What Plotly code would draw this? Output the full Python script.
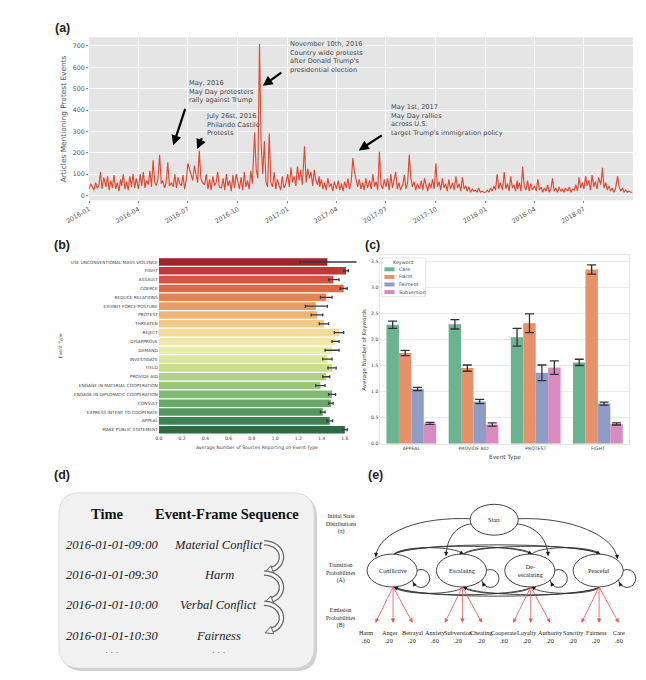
import math
import pandas as pd
import plotly.graph_objects as go

W, H = 646, 680

months = pd.period_range("2016-01", "2018-09", freq="M")
sample_days = [1, 4, 7, 10, 13, 16, 19, 22, 25, 28]
monthly_counts = [
    [30, 55, 40, 25, 60, 35, 45, 110, 30, 85],      # 2016-01
    [40, 90, 25, 70, 35, 95, 30, 60, 20, 75],
    [45, 100, 30, 65, 25, 90, 40, 100, 35, 80],
    [30, 100, 45, 110, 35, 70, 50, 115, 40, 165],
    [60, 45, 80, 190, 55, 70, 35, 60, 155, 45],
    [60, 40, 100, 35, 85, 55, 45, 95, 30, 70],
    [150, 120, 90, 70, 140, 100, 60, 210, 80, 60],
    [50, 100, 30, 75, 25, 90, 45, 60, 110, 40],
    [35, 80, 25, 100, 45, 70, 20, 95, 35, 100],
    [60, 30, 85, 25, 110, 40, 70, 30, 115, 55],
    [295, 120, 80, 710, 245, 100, 255, 60, 40, 290],  # 2016-11
    [60, 40, 110, 30, 75, 45, 25, 90, 35, 50],
    [100, 40, 130, 60, 90, 45, 135, 70, 120, 50],    # 2017-01
    [230, 60, 125, 80, 110, 45, 120, 70, 50, 90],
    [40, 75, 30, 60, 25, 80, 40, 55, 20, 65],
    [30, 70, 25, 55, 20, 65, 35, 80, 30, 60],
    [175, 110, 70, 40, 75, 30, 60, 25, 80, 35],
    [70, 30, 100, 40, 65, 25, 205, 50, 30, 75],
    [40, 80, 25, 100, 35, 70, 110, 30, 60, 25],
    [50, 95, 30, 60, 190, 80, 40, 65, 25, 55],
    [30, 70, 25, 80, 45, 20, 60, 35, 75, 30],
    [150, 40, 65, 25, 80, 35, 55, 20, 75, 30],
    [60, 25, 90, 35, 55, 20, 85, 30, 45, 20],
    [40, 15, 30, 20, 25, 15, 35, 15, 20, 15],
    [15, 25, 15, 35, 20, 45, 25, 100, 30, 60],       # 2018-01
    [25, 110, 30, 55, 20, 90, 35, 50, 20, 70],
    [30, 60, 20, 135, 40, 25, 70, 20, 55, 25],
    [45, 20, 75, 25, 40, 15, 35, 20, 50, 15],
    [30, 80, 20, 35, 15, 40, 20, 30, 15, 35],
    [20, 40, 15, 30, 25, 50, 20, 85, 35, 60],
    [30, 90, 45, 70, 25, 95, 40, 65, 30, 85],
    [50, 130, 35, 60, 25, 45, 20, 35, 15, 30],
    [90, 40, 20, 35, 15, 25, 15, 20, 15, 15],
]

# (a) callouts: text, arrow tip (date, value), arrow tail (date, value)
a_notes = [
    ("May, 2016<br>May Day protesters<br>rally against Trump", "2016-06-04", 235, "2016-06-27", 412),
    ("July 26st, 2016<br>Philando Castile<br>Protests", "2016-07-18", 217, "2016-07-28", 275),
    ("November 10th, 2016<br>Country wide protests<br>after Donald Trump's<br>presidential election",
     "2016-11-16", 513, "2016-12-23", 580),
    ("May 1st, 2017<br>May Day rallies<br>across U.S.<br>target Trump's immigration policy",
     "2017-05-12", 211, "2017-06-26", 286),
]

# (b) average number of sources per event type
event_types = [
    "USE UNCONVENTIONAL MASS VIOLENCE", "FIGHT", "ASSAULT", "COERCE", "REDUCE RELATIONS",
    "EXHIBIT FORCE POSTURE", "PROTEST", "THREATEN", "REJECT", "DISAPPROVE", "DEMAND",
    "INVESTIGATE", "YIELD", "PROVIDE AID", "ENGAGE IN MATERIAL COOPERATION",
    "ENGAGE IN DIPLOMATIC COOPERATION", "CONSULT", "EXPRESS INTENT TO COOPERATE",
    "APPEAL", "MAKE PUBLIC STATEMENT",
]
sources_mean = [1.45, 1.61, 1.50, 1.59, 1.44, 1.35, 1.36, 1.42, 1.55, 1.52,
                1.49, 1.45, 1.49, 1.44, 1.39, 1.49, 1.48, 1.41, 1.47, 1.60]
sources_err_lo = [0.24, 0.02, 0.04, 0.03, 0.05, 0.09, 0.05, 0.04, 0.04, 0.03,
                  0.06, 0.04, 0.035, 0.03, 0.04, 0.03, 0.02, 0.02, 0.025, 0.02]
sources_err_hi = [0.30, 0.02, 0.05, 0.03, 0.05, 0.10, 0.05, 0.04, 0.04, 0.03,
                  0.06, 0.04, 0.035, 0.03, 0.04, 0.03, 0.02, 0.02, 0.025, 0.02]
rdylgn = ["#a3232f", "#c0393a", "#cf5444", "#dc6a4b", "#e48356", "#ea9c63", "#efb574",
          "#f1c986", "#f2da99", "#f1e7a9", "#e9eda9", "#d9e79f", "#c6dd92", "#b1d286",
          "#99c67b", "#80b871", "#68a867", "#51965d", "#3e8452", "#2b6c42"]

# (c) average number of keywords per event type
kw_events = ["APPEAL", "PROVIDE AID", "PROTEST", "FIGHT"]
keywords = ["Care", "Harm", "Fairness", "Subversion"]
care_mean = [2.28, 2.29, 2.04, 1.56]
care_err = [0.07, 0.09, 0.17, 0.06]
harm_mean = [1.74, 1.45, 2.31, 3.34]
harm_err = [0.05, 0.06, 0.18, 0.09]
fairness_mean = [1.05, 0.81, 1.36, 0.77]
fairness_err = [0.03, 0.04, 0.15, 0.03]
subversion_mean = [0.39, 0.37, 1.46, 0.38]
subversion_err = [0.02, 0.03, 0.13, 0.02]
kw_colors = ["#6cb391", "#e5916a", "#8f9cc6", "#d68cbf"]

# (d) event-frame sequence
seq_times = ["2016-01-01-09:00", "2016-01-01-09:30", "2016-01-01-10:00", "2016-01-01-10:30"]
seq_frames = ["Material Conflict", "Harm", "Verbal Conflict", "Fairness"]

# (e) HMM states and emissions
hmm_states = ["Conflictive", "Escalating", "De-<br>escalating", "Peaceful"]
emission_names = [["Harm", "Anger", "Betrayal"], ["Anxiety", "Subversion", "Cheating"],
                  ["Cooperate", "Loyalty", "Authority"], ["Sanctity", "Fairness", "Care"]]
emission_probs = [[0.60, 0.20, 0.20], [0.60, 0.20, 0.20],
                  [0.60, 0.20, 0.20], [0.20, 0.20, 0.60]]
row_labels = ["Initial State<br>Distributions<br>(π)", "Transition<br>Probabilities<br>(A)",
              "Emission<br>Probabilities<br>(B)"]

dates = [pd.Timestamp(year=m.year, month=m.month, day=d) for m in months for d in sample_days]
counts = [v for month in monthly_counts for v in month]

SANS = "DejaVu Sans"
SERIF = "Liberation Serif"

fig = go.Figure()
fig.add_trace(go.Scatter(x=dates, y=counts, mode="lines", line=dict(color="#DF4A35", width=1.15),
                         xaxis="x", yaxis="y", showlegend=False, hoverinfo="skip"))
fig.add_trace(go.Bar(y=event_types, x=sources_mean, orientation="h", width=0.86,
                     marker=dict(color=rdylgn, line=dict(width=0)),
                     error_x=dict(type="data", symmetric=False, array=sources_err_hi,
                                  arrayminus=sources_err_lo, color="#3a3a3a", thickness=1.3, width=1.5),
                     xaxis="x2", yaxis="y2", showlegend=False))
kw_means = [care_mean, harm_mean, fairness_mean, subversion_mean]
kw_errs = [care_err, harm_err, fairness_err, subversion_err]
for name, vals, errs, col in zip(keywords, kw_means, kw_errs, kw_colors):
    fig.add_trace(go.Bar(x=kw_events, y=vals, name=name, marker=dict(color=col, line=dict(width=0)),
                         error_y=dict(type="data", array=errs, color="#333", thickness=1.3, width=4.5),
                         xaxis="x3", yaxis="y3", showlegend=False))
# overlay axis in pixel units for the diagrams and free text
fig.add_trace(go.Scatter(x=[], y=[], xaxis="x4", yaxis="y4", showlegend=False))

shapes = []
annos = []


def text(x, y, s, size, color="#222", family=SANS, **kw):
    annos.append(dict(x=x, y=y, xref="x4", yref="y4", text=s, showarrow=False,
                      font=dict(size=size, color=color, family=family), **kw))


def path(d, color, width, fill=None, layer="above"):
    sh = dict(type="path", path=d, xref="x4", yref="y4", line=dict(color=color, width=width), layer=layer)
    if fill:
        sh["fillcolor"] = fill
    shapes.append(sh)


def head(tip, frm, size, color, fill=None, width=0.5):
    tx, ty = tip
    fx, fy = frm
    dx, dy = tx - fx, ty - fy
    L = math.hypot(dx, dy) or 1
    ux, uy = dx / L, dy / L
    bx, by = tx - ux * size, ty - uy * size
    nx, ny = -uy * size * 0.5, ux * size * 0.5
    path(f"M{tx:.1f},{ty:.1f} L{bx + nx:.1f},{by + ny:.1f} L{bx - nx:.1f},{by - ny:.1f} Z",
         color, width, fill or color)


def ellipse(cx, cy, rx, ry, color="#444", width=1):
    shapes.append(dict(type="circle", xref="x4", yref="y4", x0=cx - rx, x1=cx + rx, y0=cy - ry, y1=cy + ry,
                       line=dict(color=color, width=width), fillcolor="white", layer="above"))


def rrect(x0, y0, x1, y1, r):
    return (f"M{x0 + r},{y0} L{x1 - r},{y0} Q{x1},{y0} {x1},{y0 + r} L{x1},{y1 - r} "
            f"Q{x1},{y1} {x1 - r},{y1} L{x0 + r},{y1} Q{x0},{y1} {x0},{y1 - r} "
            f"L{x0},{y0 + r} Q{x0},{y0} {x0 + r},{y0} Z")


# panel (a) grey background
shapes.append(dict(type="rect", xref="x domain", yref="y domain", x0=0, x1=1, y0=0, y1=1,
                   fillcolor="#E5E5E5", line=dict(width=0), layer="below"))

# panel labels
for lab, x, y in [("(a)", 32, 20), ("(b)", 31, 238), ("(c)", 354, 238), ("(d)", 31, 469), ("(e)", 357, 469)]:
    text(x, y, f"<b>{lab}</b>", 12.5, "#222", "Liberation Sans")

# (a) axis title and callouts
text(33, 111, "Articles Mentioning Protest Events", 7.4, "#555", textangle=-90)
note_pos = [(161, 69), (179, 102), (265.5, 30), (371, 93)]
for (s, tx, ty, fx, fy), (px, py) in zip(a_notes, note_pos):
    text(px, py, s, 6.6, "#484848", xanchor="left", yanchor="top", align="left")
    annos.append(dict(x=tx, y=ty, ax=fx, ay=fy, xref="x", yref="y", axref="x", ayref="y", text="",
                      showarrow=True, arrowhead=2, arrowsize=0.9, arrowwidth=2.2, arrowcolor="black"))

# (b) axis titles
text(234, 441, "Average Number of Sources Reporting on Event Type", 4.6, "#444")
text(30, 339, "Event Type", 4.6, "#444", textangle=-90)

# (c) axis titles and legend
text(491, 451, "Event Type", 5.8, "#444")
text(345, 343, "Average Number of Keywords", 5.5, "#444", textangle=-90)
path(rrect(363, 251, 409, 290, 2), "#dddddd", 0.8, "rgba(255,255,255,0.85)")
text(386, 255.5, "Keyword", 4.8, "#444")
for i, (name, col) in enumerate(zip(keywords, kw_colors)):
    yy = 262.5 + i * 7.6
    shapes.append(dict(type="rect", xref="x4", yref="y4", x0=366, x1=376.5, y0=yy - 2, y1=yy + 2,
                       fillcolor=col, line=dict(width=0), layer="above"))
    text(379.5, yy, name, 4.8, "#444", xanchor="left")

# (d) event-frame box
path(rrect(31, 490, 296, 666, 22), "rgba(0,0,0,0)", 0, "rgba(120,120,120,0.35)")
path(rrect(28, 487, 293, 663, 22), "#d5d5d5", 0.8, "#f1f1f1")
text(78, 508, "<b>Time</b>", 14.5, "#111", SERIF)
text(202, 508, "<b>Event-Frame Sequence</b>", 14.5, "#111", SERIF)
row_y = [539, 569.5, 600, 630.5]
for t, f, yy in zip(seq_times, seq_frames, row_y):
    text(83, yy, f"<i>{t}</i>", 12.5, "#222", SERIF)
    text(194, yy, f"<i>{f}</i>", 12.5, "#222", SERIF)
text(83, 647, "· · ·", 9, "#444", SERIF)
text(194, 647, "· · ·", 9, "#444", SERIF)
for y0, y1 in zip(row_y[:-1], row_y[1:]):
    d = f"M241,{y0 - 2} C263,{y0 - 1} 264,{y1 - 10} 249,{y1 - 5.5}"
    path(d, "#666", 5.5)
    path(d, "#f6f6f6", 3)
    head((242, y1 - 3), (252, y1 - 6.5), 8, "#666", "#f6f6f6", 1)

# (e) HMM diagram
for lab, yy in zip(row_labels, [518, 567, 613]):
    text(321, yy, lab, 5.8, "#222", SERIF)
sx, sy, srx, sry = 480, 514, 25, 15.5
cxs = [374, 446, 517, 588]
cy, rx, ry = 565, 26, 16.5
top, bot = cy - ry, cy + ry
# start -> states
start_curves = [
    ((455, 513), (405, 511), (360, 525), (357, 551)),
    ((457, 518), (440, 520), (431, 532), (430, 550)),
    ((503, 518), (522, 520), (535, 532), (536, 550)),
    ((505, 513), (560, 511), (605, 530), (608, 553)),
]
for p0, c1, c2, p1 in start_curves:
    path(f"M{p0[0]},{p0[1]} C{c1[0]},{c1[1]} {c2[0]},{c2[1]} {p1[0]},{p1[1]}", "#333", 0.9)
    head(p1, c2, 3.5, "#111")
# transitions over the top and back underneath
for i in range(4):
    for j in range(i + 1, 4):
        x1, x2 = cxs[i] + 2, cxs[j] + 2
        dist = x2 - x1
        h = (5 + 0.02 * dist) * 4 / 3
        path(f"M{x1},{top} C{x1 + 0.12 * dist},{top - h} {x2 - 0.12 * dist},{top - h} {x2},{top}", "#333", 0.9)
        path(f"M{x2},{bot} C{x2 - 0.12 * dist},{bot + h} {x1 + 0.12 * dist},{bot + h} {x1},{bot}", "#333", 0.9)
for k in range(4):
    if k > 0:
        head((cxs[k] + 2, top), (cxs[k] - 6, top - 4), 3.5, "#111")
    if k < 3:
        head((cxs[k] + 2, bot), (cxs[k] + 10, bot + 4), 3.5, "#111")
# self loops, then the state ellipses on top
for c in cxs:
    shapes.append(dict(type="circle", xref="x4", yref="y4", x0=c + 21, x1=c + 39, y0=cy - 1, y1=cy + 17,
                       line=dict(color="#333", width=0.9), layer="above"))
    head((c + 22, cy + 12), (c + 24, cy + 16), 3.5, "#111")
ellipse(sx, sy, srx, sry)
text(sx, sy, "Start", 6.2, "#222", SERIF)
for c, s in zip(cxs, hmm_states):
    ellipse(c, cy, rx, ry)
    text(c + 1, cy, s, 6.2, "#222", SERIF)
# emissions
label_x = [347 + 23.9 * i for i in range(12)]
for k, c in enumerate(cxs):
    ox, oy = c + 1, bot
    for m, off in enumerate([-18, 0, 20]):
        ex, ey = c + 1 + off, 617
        path(f"M{ox},{oy} L{ex},{ey}", "#e8554e", 0.8)
        head((ex, ey), (ox, oy), 3.5, "#e8554e")
        lx = label_x[k * 3 + m]
        text(lx, 627.5, emission_names[k][m], 6.2, "#222", SERIF)
        text(lx, 635.5, f"{emission_probs[k][m]:.2f}"[1:], 6.2, "#222", SERIF)

fig.update_layout(
    width=W, height=H, margin=dict(l=0, r=0, t=0, b=0),
    paper_bgcolor="white", plot_bgcolor="rgba(0,0,0,0)",
    barmode="group", bargap=0.2, bargroupgap=0,
    shapes=shapes, annotations=annos,
    xaxis=dict(domain=[59.3 / W, 624 / W], anchor="y", type="date",
               range=["2016-01-01", "2018-09-29"], tick0="2016-01-01", dtick="M3", tickformat="%Y-%m",
               tickangle=-30, tickfont=dict(size=6.3, color="#555", family=SANS),
               showgrid=True, gridcolor="white", gridwidth=1, zeroline=False, showline=False,
               ticks="outside", ticklen=2, tickcolor="#888"),
    yaxis=dict(domain=[1 - 193 / H, 1 - 29.3 / H], anchor="x", range=[-22, 741],
               tickvals=[0, 100, 200, 300, 400, 500, 600, 700],
               tickfont=dict(size=6.3, color="#555", family=SANS),
               showgrid=True, gridcolor="white", gridwidth=1, zeroline=False, showline=False,
               ticks="outside", ticklen=2, tickcolor="#888"),
    xaxis2=dict(domain=[131.7 / W, 337 / W], anchor="y2", range=[0, 1.7],
                tickvals=[0, 0.2, 0.4, 0.6, 0.8, 1.0, 1.2, 1.4, 1.6], tickformat=".1f",
                tickfont=dict(size=4.6, color="#444", family=SANS),
                showgrid=False, zeroline=False, showline=False),
    yaxis2=dict(domain=[1 - 428 / H, 1 - 250.7 / H], anchor="x2", type="category",
                categoryorder="array", categoryarray=event_types, range=[19.5, -0.5],
                tickfont=dict(size=4.3, color="#444", family=SANS),
                showgrid=False, zeroline=False, showline=False),
    xaxis3=dict(domain=[361.7 / W, 620 / W], anchor="y3", type="category",
                tickfont=dict(size=4.6, color="#444", family=SANS),
                showgrid=False, zeroline=False, showline=True, linecolor="#e6e6e6", mirror=True),
    yaxis3=dict(domain=[1 - 437.7 / H, 1 - 248 / H], anchor="x3", range=[0, 3.62],
                tickvals=[0, 0.5, 1.0, 1.5, 2.0, 2.5, 3.0, 3.5], tickformat=".1f",
                tickfont=dict(size=4.6, color="#444", family=SANS),
                showgrid=True, gridcolor="#ebebeb", zeroline=False,
                showline=True, linecolor="#e6e6e6", mirror=True),
    xaxis4=dict(domain=[0, 1], anchor="y4", range=[0, W], visible=False, fixedrange=True),
    yaxis4=dict(domain=[0, 1], anchor="x4", range=[H, 0], visible=False, fixedrange=True),
)

fig.write_html("out.html")
